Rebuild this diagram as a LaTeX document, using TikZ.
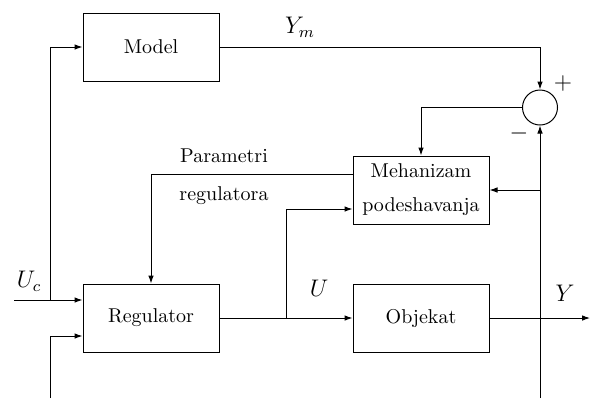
\documentclass[tikz,border=0pt]{standalone}
\usetikzlibrary{arrows.meta}
\begin{document}
\begin{tikzpicture}[x=0.5pt,y=-0.5pt,line width=0.5pt,
  box/.style={draw, minimum width=68pt, minimum height=34pt, inner sep=0pt},
  arr/.style={-{Latex[length=4pt,width=2.8pt]}},
  lbl/.style={font=\large}]
\useasboundingbox (0,0) rectangle (592,398);
\node[box] (model) at (151,47) {Model};
\node[box] (reg) at (151,318) {Regulator};
\node[box] (obj) at (421,318) {Objekat};
\node[box, align=center] (meh) at (421,190) {Mehanizam\\[5pt]podeshavanja};
\node[circle, draw, minimum size=17.5pt, inner sep=0pt] (sum) at (540,107.5) {};
\coordinate (uc) at (14,300);
\coordinate (br) at (50,300);
\coordinate (yfb) at (50,398);
\coordinate (bu) at (286,318);
\coordinate (yout) at (590,318);
\coordinate (yb) at (540,398);
\draw[arr] (uc) -- (uc -| reg.west);
\draw[arr] (br) |- (model.west);
\draw[arr] (yfb) |- ([yshift=-9pt]reg.west);
\draw[arr] (reg.east) -- (obj.west);
\draw[arr] (bu) |- ([yshift=-9.5pt]meh.west);
\draw[arr] ([yshift=8pt]meh.west) -| (reg.north);
\draw[arr] (obj.east) -- (yout);
\draw[arr] (yb) -- (sum.south);
\draw[arr] (sum.south |- meh.east) -- (meh.east);
\draw[arr] (model.east) -| (sum.north);
\draw[arr] (sum.west) -| (meh.north);
\node[lbl] (lym) at (300,27) {$Y_m$};
\node[lbl] (lplus) at (563,83) {$+$};
\node[lbl] (lminus) at (519,133) {$-$};
\node[lbl] (luc) at (29,281) {$U_c$};
\node[lbl] (lu) at (319,288) {$U$};
\node[lbl] (ly) at (565,293) {$Y$};
\node[anchor=base] (lp1) at (224,162) {Parametri};
\node[anchor=base] (lp2) at (224,200) {regulatora};
\end{tikzpicture}
\end{document}
